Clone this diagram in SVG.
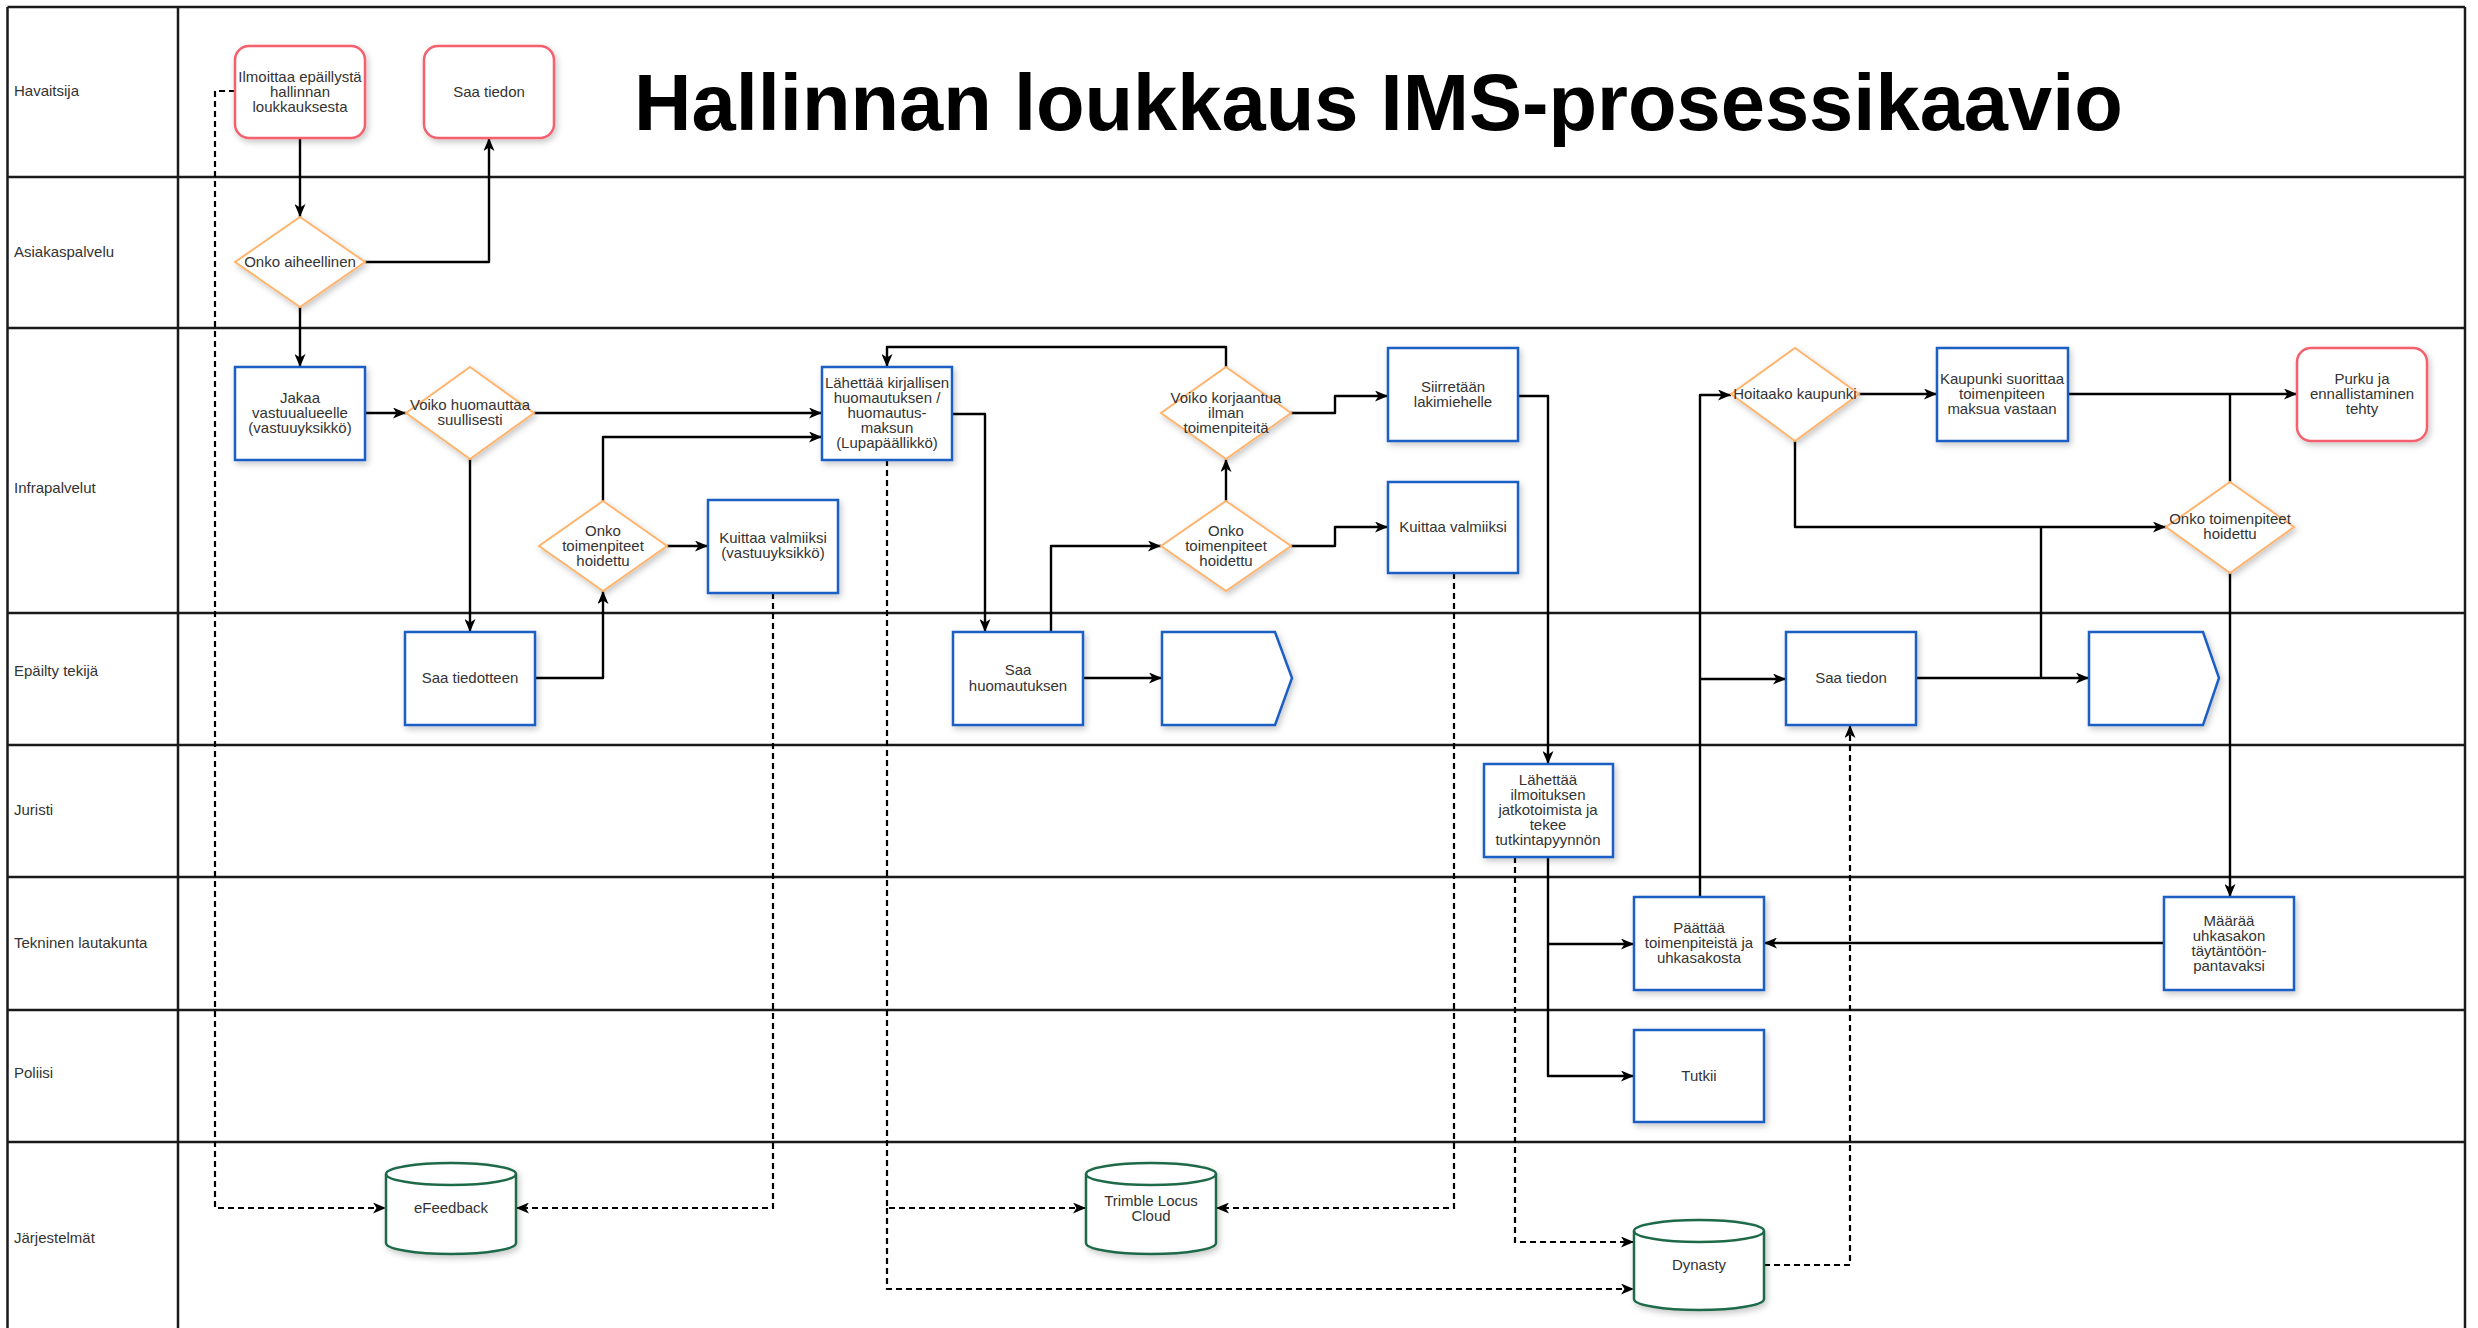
<svg xmlns="http://www.w3.org/2000/svg" width="2478" height="1328" viewBox="0 0 2478 1328">
<defs>
<marker id="arr" viewBox="0 0 13 11" refX="13" refY="5.5" markerWidth="13" markerHeight="11" markerUnits="userSpaceOnUse" orient="auto"><path d="M0,0 L13,5.5 L0,11 L3.5,5.5 z" fill="#000"/></marker>
<filter id="sh" x="-20%" y="-20%" width="150%" height="150%"><feDropShadow dx="2" dy="3" stdDeviation="3" flood-color="#000" flood-opacity="0.22"/></filter>
<style>
.lane{stroke:#1a1a1a;stroke-width:2.5;fill:none}
.lbl{font-family:"Liberation Sans",Arial,sans-serif;font-size:15px;fill:#333}
.t{font-family:"Liberation Sans",Arial,sans-serif;font-size:15px;fill:#333;text-anchor:middle}
.title{font-family:"Liberation Sans",Arial,sans-serif;font-size:79.5px;font-weight:bold;fill:#000}
.box{fill:#fff;stroke:#1f5fc4;stroke-width:2.5;filter:url(#sh)}
.term{fill:#fff;stroke:#f4606e;stroke-width:2.5;filter:url(#sh)}
.dec{fill:#fff;stroke:#ffb46e;stroke-width:2;filter:url(#sh)}
.db{fill:#fff;stroke:#1e6a48;stroke-width:2.5;filter:url(#sh)}
.dbl{fill:none;stroke:#1e6a48;stroke-width:2.5}
.c{fill:none;stroke:#000;stroke-width:2.4;stroke-linejoin:round;marker-end:url(#arr)}
.j{fill:none;stroke:#000;stroke-width:2.4;stroke-linejoin:round}
.d{fill:none;stroke:#000;stroke-width:2.2;stroke-dasharray:6 4;marker-end:url(#arr)}
</style>
</defs>
<rect width="2478" height="1328" fill="#fff"/>
<g id="lanes">
<path class="lane" d="M7.5,7 H2465 M7.5,7 V1328 M2465,7 V1328 M178,7 V1328 M7.5,177 H2465 M7.5,328 H2465 M7.5,613 H2465 M7.5,745 H2465 M7.5,877 H2465 M7.5,1010 H2465 M7.5,1142 H2465"/>
<text class="lbl" x="14" y="96">Havaitsija</text>
<text class="lbl" x="14" y="257">Asiakaspalvelu</text>
<text class="lbl" x="14" y="493">Infrapalvelut</text>
<text class="lbl" x="14" y="676">Epäilty tekijä</text>
<text class="lbl" x="14" y="815">Juristi</text>
<text class="lbl" x="14" y="948">Tekninen lautakunta</text>
<text class="lbl" x="14" y="1078">Poliisi</text>
<text class="lbl" x="14" y="1243">Järjestelmät</text>
</g>
<text class="title" x="634" y="130">Hallinnan loukkaus IMS-prosessikaavio</text>
<g id="connectors">
<path class="c" d="M300,138 V217"/>
<path class="c" d="M365,262 H489 V138"/>
<path class="c" d="M300,307 V367"/>
<path class="c" d="M365,413 H406"/>
<path class="c" d="M534,413 H822"/>
<path class="c" d="M470,459 V632"/>
<path class="c" d="M535,678 H603 V591"/>
<path class="c" d="M603,501 V437 H822"/>
<path class="c" d="M667,546 H708"/>
<path class="c" d="M952,414 H985 V632"/>
<path class="c" d="M1051,632 V546 H1161"/>
<path class="c" d="M1083,678 H1162"/>
<path class="c" d="M1226,501 V459"/>
<path class="c" d="M1226,367 V347 H887 V367"/>
<path class="c" d="M1291,413 H1335 V396 H1388"/>
<path class="c" d="M1291,546 H1335 V527 H1388"/>
<path class="c" d="M1518,396 H1548 V764"/>
<path class="c" d="M1548,857 V944 H1634"/>
<path class="c" d="M1548,944 V1076 H1634"/>
<path class="c" d="M1700,897 V395 H1731"/>
<path class="c" d="M1700,679 H1786"/>
<path class="c" d="M2164,943 H1764"/>
<path class="c" d="M1859,394 H1937"/>
<path class="c" d="M2068,394 H2297"/>
<path class="j" d="M2230,482 V394"/>
<path class="c" d="M1795,441 V527 H2166"/>
<path class="c" d="M1916,678 H2089"/>
<path class="j" d="M2041,678 V527"/>
<path class="c" d="M2230,573 V897"/>
<path class="d" d="M235,91 H215 V1208 H386"/>
<path class="d" d="M773,593 V1208 H516"/>
<path class="d" d="M887,460 V1208 H1086"/>
<path class="d" d="M887,1208 V1289 H1634"/>
<path class="d" d="M1454,573 V1208 H1216"/>
<path class="d" d="M1515,857 V1242 H1634"/>
<path class="d" d="M1764,1265 H1850 V725"/>
</g>
<g id="n-ilmoittaa"><rect class="term" x="235" y="46" width="130" height="92" rx="14"/><text class="t" x="300" y="82">Ilmoittaa epäillystä</text><text class="t" x="300" y="97">hallinnan</text><text class="t" x="300" y="112">loukkauksesta</text></g>
<g id="n-saa-tiedon-1"><rect class="term" x="424" y="46" width="130" height="92" rx="14"/><text class="t" x="489" y="97">Saa tiedon</text></g>
<g id="d-aiheellinen"><polygon class="dec" points="300,217 365,262 300,307 235,262"/><text class="t" x="300" y="267">Onko aiheellinen</text></g>
<g id="n-jakaa"><rect class="box" x="235" y="367" width="130" height="93"/><text class="t" x="300" y="403">Jakaa</text><text class="t" x="300" y="418">vastuualueelle</text><text class="t" x="300" y="433">(vastuuyksikkö)</text></g>
<g id="d-voiko-huomauttaa"><polygon class="dec" points="470,367 534,413 470,459 406,413"/><text class="t" x="470" y="410">Voiko huomauttaa</text><text class="t" x="470" y="425">suullisesti</text></g>
<g id="n-lahettaa-kirjallisen"><rect class="box" x="822" y="367" width="130" height="93"/><text class="t" x="887" y="388">Lähettää kirjallisen</text><text class="t" x="887" y="403">huomautuksen /</text><text class="t" x="887" y="418">huomautus-</text><text class="t" x="887" y="433">maksun</text><text class="t" x="887" y="448">(Lupapäällikkö)</text></g>
<g id="d-onko-1"><polygon class="dec" points="603,501 667,546 603,591 539,546"/><text class="t" x="603" y="536">Onko</text><text class="t" x="603" y="551">toimenpiteet</text><text class="t" x="603" y="566">hoidettu</text></g>
<g id="n-kuittaa-1"><rect class="box" x="708" y="500" width="130" height="93"/><text class="t" x="773" y="543">Kuittaa valmiiksi</text><text class="t" x="773" y="558">(vastuuyksikkö)</text></g>
<g id="n-saa-tiedotteen"><rect class="box" x="405" y="632" width="130" height="93"/><text class="t" x="470" y="683">Saa tiedotteen</text></g>
<g id="n-saa-huomautuksen"><rect class="box" x="953" y="632" width="130" height="93"/><text class="t" x="1018" y="675">Saa</text><text class="t" x="1018" y="691">huomautuksen</text></g>
<g id="off-1"><polygon class="box" points="1162,632 1275,632 1292,678 1275,725 1162,725"/></g>
<g id="d-voiko-korjaantua"><polygon class="dec" points="1226,367 1291,413 1226,459 1161,413"/><text class="t" x="1226" y="403">Voiko korjaantua</text><text class="t" x="1226" y="418">ilman</text><text class="t" x="1226" y="433">toimenpiteitä</text></g>
<g id="d-onko-2"><polygon class="dec" points="1226,501 1291,546 1226,591 1161,546"/><text class="t" x="1226" y="536">Onko</text><text class="t" x="1226" y="551">toimenpiteet</text><text class="t" x="1226" y="566">hoidettu</text></g>
<g id="n-siirretaan"><rect class="box" x="1388" y="348" width="130" height="93"/><text class="t" x="1453" y="392">Siirretään</text><text class="t" x="1453" y="407">lakimiehelle</text></g>
<g id="n-kuittaa-2"><rect class="box" x="1388" y="482" width="130" height="91"/><text class="t" x="1453" y="532">Kuittaa valmiiksi</text></g>
<g id="n-lahettaa-ilmoituksen"><rect class="box" x="1484" y="764" width="129" height="93"/><text class="t" x="1548" y="785">Lähettää</text><text class="t" x="1548" y="800">ilmoituksen</text><text class="t" x="1548" y="815">jatkotoimista ja</text><text class="t" x="1548" y="830">tekee</text><text class="t" x="1548" y="845">tutkintapyynnön</text></g>
<g id="n-paattaa"><rect class="box" x="1634" y="897" width="130" height="93"/><text class="t" x="1699" y="933">Päättää</text><text class="t" x="1699" y="948">toimenpiteistä ja</text><text class="t" x="1699" y="963">uhkasakosta</text></g>
<g id="n-tutkii"><rect class="box" x="1634" y="1030" width="130" height="92"/><text class="t" x="1699" y="1081">Tutkii</text></g>
<g id="n-maaraa"><rect class="box" x="2164" y="897" width="130" height="93"/><text class="t" x="2229" y="926">Määrää</text><text class="t" x="2229" y="941">uhkasakon</text><text class="t" x="2229" y="956">täytäntöön-</text><text class="t" x="2229" y="971">pantavaksi</text></g>
<g id="d-hoitaako"><polygon class="dec" points="1795,348 1859,394 1795,441 1731,394"/><text class="t" x="1795" y="399">Hoitaako kaupunki</text></g>
<g id="n-kaupunki"><rect class="box" x="1937" y="348" width="131" height="93"/><text class="t" x="2002" y="384">Kaupunki suorittaa</text><text class="t" x="2002" y="399">toimenpiteen</text><text class="t" x="2002" y="414">maksua vastaan</text></g>
<g id="n-purku"><rect class="term" x="2297" y="348" width="130" height="93" rx="14"/><text class="t" x="2362" y="384">Purku ja</text><text class="t" x="2362" y="399">ennallistaminen</text><text class="t" x="2362" y="414">tehty</text></g>
<g id="d-onko-3"><polygon class="dec" points="2230,482 2294,527 2230,573 2166,527"/><text class="t" x="2230" y="524">Onko toimenpiteet</text><text class="t" x="2230" y="539">hoidettu</text></g>
<g id="n-saa-tiedon-2"><rect class="box" x="1786" y="632" width="130" height="93"/><text class="t" x="1851" y="683">Saa tiedon</text></g>
<g id="off-2"><polygon class="box" points="2089,632 2203,632 2219,678 2203,725 2089,725"/></g>
<g id="db-efeedback"><path class="db" d="M386,1174 a65,11 0 0 1 130,0 v69 a65,11 0 0 1 -130,0 z"/><path class="dbl" d="M386,1174 a65,11 0 0 0 130,0"/><text class="t" x="451" y="1213">eFeedback</text></g>
<g id="db-trimble"><path class="db" d="M1086,1174 a65,11 0 0 1 130,0 v69 a65,11 0 0 1 -130,0 z"/><path class="dbl" d="M1086,1174 a65,11 0 0 0 130,0"/><text class="t" x="1151" y="1206">Trimble Locus</text><text class="t" x="1151" y="1221">Cloud</text></g>
<g id="db-dynasty"><path class="db" d="M1634,1231 a65,11 0 0 1 130,0 v68 a65,11 0 0 1 -130,0 z"/><path class="dbl" d="M1634,1231 a65,11 0 0 0 130,0"/><text class="t" x="1699" y="1270">Dynasty</text></g>
</svg>
